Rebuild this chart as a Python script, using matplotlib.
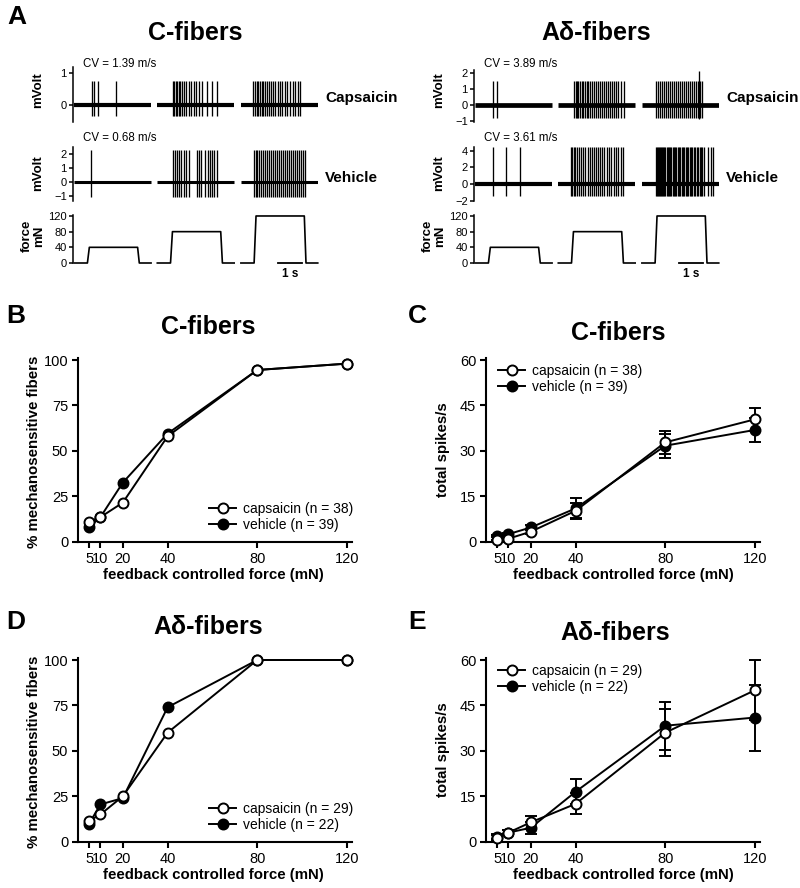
"""Mechanosensitivity of C- and Adelta-fibers after capsaicin vs vehicle (5-panel figure)."""
import matplotlib
matplotlib.use("Agg")
import matplotlib.pyplot as plt
from matplotlib.lines import Line2D

plt.rcParams["font.family"] = ["Liberation Sans", "DejaVu Sans"]

W, H = 800, 888

# ---- panel A: example recordings (spike times in s from segment start) ----
seg_force = [40, 80, 120]                     # mN, one segment per force step
ramp_t = [0, 0.55, 0.63, 2.64, 2.71, 3.2]     # stimulus protocol time points (s)
seg_start = [0, 3.46, 6.94]
seg_len = 3.2

c_caps_spikes = [
    [0.74, 0.83, 1.01, 1.74],
    [0.65, 0.71, 0.76, 0.82, 0.89, 0.96, 1.04, 1.13, 1.21, 1.31, 1.40, 1.51,
     1.63, 1.74, 1.86, 2.07, 2.28, 2.49],
    [0.51, 0.58, 0.65, 0.72, 0.79, 0.86, 0.93, 1.01, 1.10, 1.18, 1.26, 1.35,
     1.44, 1.54, 1.63, 1.72, 1.83, 1.93, 2.04, 2.15, 2.26, 2.38, 2.46],
]
c_veh_spikes = [
    [0.69],
    [0.65, 0.74, 0.82, 0.90, 1.00, 1.10, 1.21, 1.31, 1.65, 1.75, 1.83, 2.00,
     2.10, 2.18, 2.28, 2.38, 2.49],
    [0.54, 0.61, 0.68, 0.75, 0.82, 0.90, 0.99, 1.07, 1.15, 1.24, 1.32, 1.40,
     1.49, 1.57, 1.65, 1.74, 1.82, 1.90, 1.99, 2.07, 2.15, 2.24, 2.32, 2.40,
     2.49, 2.57, 2.67],
]
ad_caps_spikes = [
    [0.74, 0.92],
    [0.67, 0.72, 0.78, 0.83, 0.90, 0.97, 1.04, 1.11, 1.18, 1.25, 1.33, 1.42,
     1.50, 1.58, 1.67, 1.75, 1.83, 1.92, 2.00, 2.08, 2.17, 2.25, 2.33, 2.42,
     2.50, 2.61, 2.72],
    [0.60, 0.67, 0.75, 0.83, 0.92, 1.00, 1.08, 1.17, 1.25, 1.33, 1.42, 1.50,
     1.58, 1.67, 1.75, 1.83, 1.92, 2.00, 2.08, 2.17, 2.25, 2.33, 2.42, 2.50],
]
ad_caps_big = [2.37]   # single larger spike in the 120 mN segment
ad_veh_spikes = [
    [0.74, 1.29, 1.88],
    [0.52, 0.57, 0.64, 0.71, 0.78, 0.85, 0.95, 1.04, 1.13, 1.22, 1.31, 1.39,
     1.47, 1.57, 1.65, 1.74, 1.83, 1.92, 2.02, 2.10, 2.20, 2.31, 2.42, 2.50,
     2.60, 2.68],
    [0.57, 0.61, 0.66, 0.70, 0.75, 0.79, 0.84, 0.89, 0.93, 0.98, 1.03, 1.08,
     1.13, 1.18, 1.23, 1.28, 1.34, 1.39, 1.44, 1.49, 1.55, 1.60, 1.66, 1.71,
     1.77, 1.82, 1.88, 1.93, 1.99, 2.04, 2.10, 2.16, 2.22, 2.28, 2.34, 2.40,
     2.46, 2.52, 2.58, 2.75, 2.86, 2.96],
]

# ---- panels B-E ----
force = [5, 10, 20, 40, 80, 120]
c_resp_caps = [11, 13.5, 21.5, 58, 94.5, 98]
c_resp_veh = [8, 13.5, 32.5, 59.5, 94.5, 98]
c_spk_caps = [0.4, 1.0, 3.3, 10.2, 32.8, 40.4]
c_spk_caps_sem = [0.3, 0.4, 0.8, 2.7, 3.8, 3.9]
c_spk_veh = [1.9, 2.5, 4.7, 11.0, 31.7, 36.9]
c_spk_veh_sem = [0.4, 0.5, 0.8, 3.3, 4.0, 4.1]
ad_resp_caps = [11.5, 15, 25, 60, 100, 100]
ad_resp_veh = [10, 20.5, 24, 74, 100, 100]
ad_spk_caps = [1.3, 3.0, 6.4, 12.5, 36.0, 50.0]
ad_spk_caps_sem = [0.8, 0.8, 2.2, 3.5, 7.7, 9.9]
ad_spk_veh = [1.7, 3.0, 4.6, 16.5, 38.3, 41.0]
ad_spk_veh_sem = [0.9, 0.7, 1.9, 4.1, 7.9, 10.9]

fig = plt.figure(figsize=(W / 100, H / 100), dpi=100)


def ax_px(l, t, r, b):
    return fig.add_axes([l / W, 1 - b / H, (r - l) / W, (b - t) / H])


def ftext(x, y, s, **kw):
    kw.setdefault("ha", "center")
    kw.setdefault("va", "center")
    fig.text(x / W, 1 - y / H, s, **kw)


def trace_axes(l, t, b, ylim, yticks):
    ax = ax_px(l, t, l + 245, b)
    ax.set_xlim(-0.05, 10.15)
    ax.set_ylim(*ylim)
    for s in ("top", "right", "bottom"):
        ax.spines[s].set_visible(False)
    ax.spines["left"].set_linewidth(1.1)
    ax.set_xticks([])
    ax.set_yticks(yticks)
    ax.tick_params(axis="y", labelsize=8, length=3, width=1.1, pad=1.5)
    return ax


def draw_trace(ax, spikes, up, down, base_lw):
    for off, times in zip(seg_start, spikes):
        ax.plot([off, off + seg_len], [0, 0], color="k", lw=base_lw,
                solid_capstyle="butt")
        ax.vlines([off + t for t in times], down, up, color="k", lw=0.95)


def force_axes(l):
    ax = trace_axes(l, 215, 263, (0, 122.5), [0, 40, 80, 120])
    for off, F in zip(seg_start, seg_force):
        ax.plot([off + t for t in ramp_t], [0, 0, F, F, 0, 0], color="k",
                lw=1.2, clip_on=False)
    ax.plot([8.49, 9.49], [0, 0], color="k", lw=1.3, clip_on=False)
    ax.annotate("1 s", (8.99, 0), xytext=(0, -5), textcoords="offset pixels",
                ha="center", va="top", fontsize=8.5, fontweight="bold")
    return ax


# panel A, both halves
for x0, title, caps, veh, cv1, cv2 in [
        (73, "C-fibers", c_caps_spikes, c_veh_spikes, "CV = 1.39 m/s", "CV = 0.68 m/s"),
        (474, "Aδ-fibers", ad_caps_spikes, ad_veh_spikes, "CV = 3.89 m/s", "CV = 3.61 m/s")]:
    if x0 == 73:
        a1 = trace_axes(x0, 67, 122, (-0.53, 1.19), [0, 1])
        draw_trace(a1, caps, 0.75, -0.35, 3.0)
        a2 = trace_axes(x0, 147, 201, (-1.36, 2.5), [-1, 0, 1, 2])
        draw_trace(a2, veh, 2.3, -1.1, 2.2)
    else:
        a1 = trace_axes(x0, 70, 122, (-1.06, 2.19), [-1, 0, 1, 2])
        draw_trace(a1, caps, 1.5, -0.8, 3.4)
        a1.vlines([seg_start[2] + t for t in ad_caps_big], -0.9, 2.1,
                  color="k", lw=0.95)
        a2 = trace_axes(x0, 147, 201, (-2.06, 4.48), [-2, 0, 2, 4])
        draw_trace(a2, veh, 4.48, -1.5, 3.0)
    force_axes(x0)
    ftext(x0 + 122, 33, title, fontsize=18, fontweight="bold")
    ftext(x0 + 10, 64, cv1, ha="left", fontsize=8.3)
    ftext(x0 + 10, 138, cv2, ha="left", fontsize=8.3)
    ftext(x0 - 35, 90, "mVolt", rotation=90, fontsize=9.5, fontweight="bold")
    ftext(x0 - 35, 173, "mVolt", rotation=90, fontsize=9.5, fontweight="bold")
    ftext(x0 - 40, 236, "force\nmN", rotation=90, fontsize=9.5,
          fontweight="bold", linespacing=0.95)
    ftext(x0 + 252, 98, "Capsaicin", ha="left", fontsize=11, fontweight="bold")
    ftext(x0 + 252, 178, "Vehicle", ha="left", fontsize=11, fontweight="bold")

ftext(17, 17, "A", fontsize=19, fontweight="bold")


def summary_axes(l, bottom_px, ymax, yticks):
    ax = ax_px(l, bottom_px - 181.7 * ymax / yticks[-1], l + 274, bottom_px)
    ax.set_xlim(0, 122.3)
    ax.set_ylim(0, ymax)
    ax.set_xticks(force)
    ax.set_yticks(yticks)
    for s in ("top", "right"):
        ax.spines[s].set_visible(False)
    for s in ("left", "bottom"):
        ax.spines[s].set_linewidth(1.5)
    ax.tick_params(length=4, width=1.5, labelsize=10.5)
    ax.tick_params(axis="y", pad=3)
    ax.tick_params(axis="x", pad=3.5)
    return ax


open_kw = dict(color="k", lw=1.4, marker="o", ms=7.2, mfc="white", mec="k",
               mew=1.4, clip_on=False)
fill_kw = dict(color="k", lw=1.4, marker="o", ms=7.2, mfc="k", mec="k",
               mew=1.4, clip_on=False)


def legend(ax, left, top, n_caps, n_veh):
    hs = [Line2D([], [], **open_kw), Line2D([], [], **fill_kw)]
    ax.legend(hs, [f"capsaicin (n = {n_caps})", f"vehicle (n = {n_veh})"],
              loc="upper left", bbox_to_anchor=(left / W, 1 - top / H),
              bbox_transform=fig.transFigure, frameon=False, borderpad=0,
              borderaxespad=0, handlelength=1.95, handletextpad=0.5,
              labelspacing=0.15, fontsize=10)


def resp_panel(l, bottom_px, caps, veh, n_caps, n_veh, leg_top):
    ax = summary_axes(l, bottom_px, 101, [0, 25, 50, 75, 100])
    ax.plot(force, veh, zorder=3, **fill_kw)
    ax.plot(force, caps, zorder=4, **open_kw)
    legend(ax, l + 131, leg_top, n_caps, n_veh)
    return ax


def spk_panel(l, bottom_px, caps, caps_e, veh, veh_e, n_caps, n_veh, leg_top):
    ax = summary_axes(l, bottom_px, 60.6, [0, 15, 30, 45, 60])
    eb = dict(capsize=4.3, elinewidth=1.4, capthick=1.4, ecolor="k")
    ax.errorbar(force, veh, yerr=veh_e, zorder=3, **eb, **fill_kw)
    ax.errorbar(force, caps, yerr=caps_e, zorder=4, **eb, **open_kw)
    legend(ax, l + 12, leg_top, n_caps, n_veh)
    return ax


resp_panel(78, 541.7, c_resp_caps, c_resp_veh, 38, 39, 502)
spk_panel(486, 541.7, c_spk_caps, c_spk_caps_sem, c_spk_veh, c_spk_veh_sem,
          38, 39, 364)
resp_panel(78, 841.7, ad_resp_caps, ad_resp_veh, 29, 22, 802)
spk_panel(486, 841.7, ad_spk_caps, ad_spk_caps_sem, ad_spk_veh, ad_spk_veh_sem,
          29, 22, 664)

for (x, y, s) in [(16, 316, "B"), (417, 316, "C"), (16, 622, "D"), (417, 622, "E")]:
    ftext(x, y, s, fontsize=19, fontweight="bold")
for (x, y, s) in [(208, 327, "C-fibers"), (618, 333, "C-fibers"),
                  (208, 627, "Aδ-fibers"), (615, 633, "Aδ-fibers")]:
    ftext(x, y, s, fontsize=18, fontweight="bold")
for (x, y) in [(213, 575), (623, 575), (213, 875), (623, 875)]:
    ftext(x, y, "feedback controlled force (mN)", fontsize=10.8, fontweight="bold")
for (x, y, s) in [(34, 452, "% mechanosensitive fibers"), (443, 450, "total spikes/s"),
                  (34, 752, "% mechanosensitive fibers"), (443, 750, "total spikes/s")]:
    ftext(x, y, s, rotation=90, fontsize=10.8, fontweight="bold")

fig.savefig("out.png", dpi=100)
